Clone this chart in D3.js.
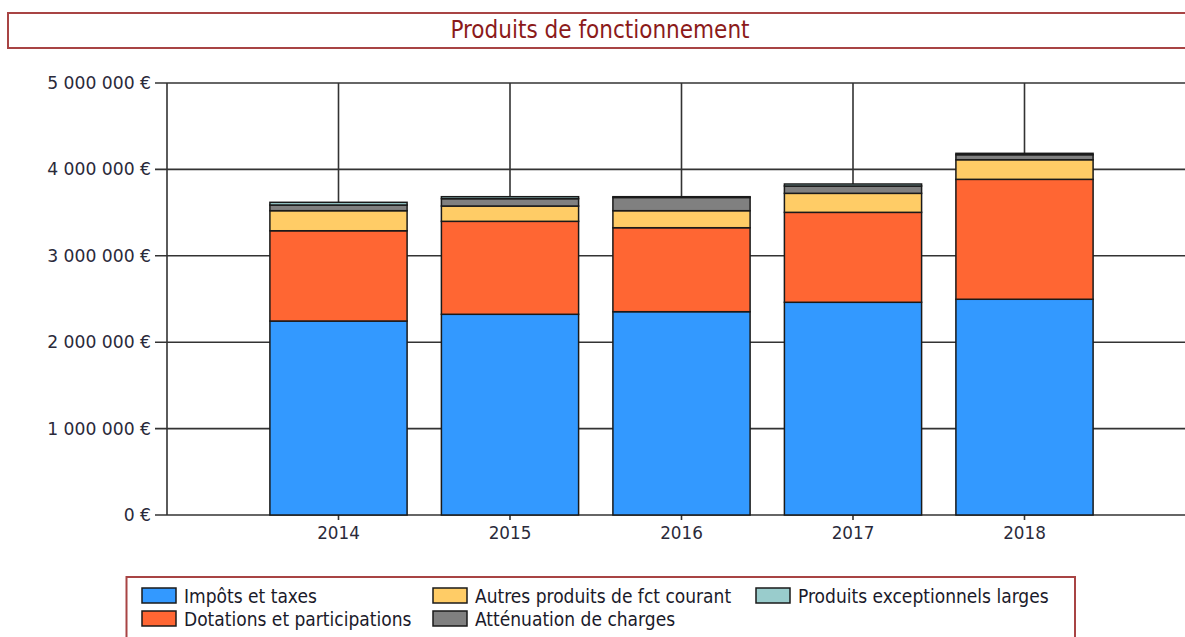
<!DOCTYPE html>
<html>
<head>
<meta charset="utf-8">
<script src="https://cdn.jsdelivr.net/npm/d3@7"></script>
<style>
  html, body { margin: 0; padding: 0; background: #fff; overflow: hidden; }
</style>
</head>
<body>
<svg id="chart"></svg>
<script>
const years = ["2014", "2015", "2016", "2017", "2018"];
const impots = [2245000, 2323000, 2353000, 2462000, 2497000];
const dotations = [1045000, 1076000, 972000, 1041000, 1388000];
const autres = [232000, 177000, 197000, 220000, 227000];
const attenuation = [66000, 85000, 153000, 85000, 58000];
const exceptionnels = [31000, 23000, 9000, 23000, 16000];
const yTicks = [0, 1000000, 2000000, 3000000, 4000000, 5000000];

const seriesNames = [
  "Impôts et taxes",
  "Dotations et participations",
  "Autres produits de fct courant",
  "Atténuation de charges",
  "Produits exceptionnels larges",
];
const seriesColors = ["#3399FF", "#FF6633", "#FFCC66", "#808080", "#99CCCC"];

const width = 1185;
const height = 637;
const frameColor = "#A84444";

const svg = d3.select("#chart").attr("width", width).attr("height", height);

// Build a table for d3.stack from the arrays
const keys = ["impots", "dotations", "autres", "attenuation", "exceptionnels"];
const table = years.map((y, i) => ({
  year: y,
  impots: impots[i],
  dotations: dotations[i],
  autres: autres[i],
  attenuation: attenuation[i],
  exceptionnels: exceptionnels[i],
}));
const stacked = d3.stack().keys(keys)(table);

const left = 167;
const step = 171.5;
const x = d3
  .scalePoint()
  .domain(years)
  .range([left + step, left + step * years.length]);
const barWidth = step * 0.8;

const y = d3.scaleLinear().domain([0, 5000000]).range([515, 83]);

const fmt = (d) => d3.format(",")(d).replace(/,/g, " ") + " €";

// Title box
svg
  .append("rect")
  .attr("x", 8)
  .attr("y", 13)
  .attr("width", 1200)
  .attr("height", 35)
  .attr("fill", "none")
  .attr("stroke", frameColor)
  .attr("stroke-width", 2);

svg
  .append("text")
  .attr("x", 600)
  .attr("y", 30)
  .attr("dy", "0.35em")
  .attr("text-anchor", "middle")
  .style("font-family", "'DejaVu Sans Condensed', 'DejaVu Sans', sans-serif")
  .style("font-stretch", "condensed")
  .style("font-size", "24px")
  .style("fill", "#8B1A1A")
  .text("Produits de fonctionnement");

// Horizontal grid lines + y ticks
const grid = svg.append("g");
grid
  .selectAll(".hgrid")
  .data(yTicks)
  .enter()
  .append("line")
  .attr("x1", left - 12)
  .attr("x2", width)
  .attr("y1", (d) => y(d))
  .attr("y2", (d) => y(d))
  .style("stroke", "#333")
  .style("stroke-width", 1.6);

// Vertical grid lines at categories
grid
  .selectAll(".vgrid")
  .data(years)
  .enter()
  .append("line")
  .attr("x1", (d) => x(d))
  .attr("x2", (d) => x(d))
  .attr("y1", y(5000000))
  .attr("y2", y(0) + 5)
  .style("stroke", "#333")
  .style("stroke-width", 1.6);

// Y axis line
grid
  .append("line")
  .attr("x1", left)
  .attr("x2", left)
  .attr("y1", y(5000000))
  .attr("y2", y(0))
  .style("stroke", "#333")
  .style("stroke-width", 1.6);

// Y labels
svg
  .selectAll(".ylabel")
  .data(yTicks)
  .enter()
  .append("text")
  .attr("x", left - 16)
  .attr("y", (d) => y(d))
  .attr("dy", "0.35em")
  .attr("text-anchor", "end")
  .style("font-family", "'DejaVu Sans', Verdana, sans-serif")
  .style("font-size", "17.2px")
  .style("fill", "#2a2a3a")
  .text(fmt);

// X labels
svg
  .selectAll(".xlabel")
  .data(years)
  .enter()
  .append("text")
  .attr("x", (d) => x(d))
  .attr("y", 533)
  .attr("dy", "0.35em")
  .attr("text-anchor", "middle")
  .style("font-family", "'DejaVu Sans', Verdana, sans-serif")
  .style("font-size", "16.8px")
  .style("fill", "#2a2a3a")
  .text((d) => d);

// Bars
const layers = svg
  .append("g")
  .selectAll(".layer")
  .data(stacked)
  .enter()
  .append("g")
  .attr("fill", (d, i) => seriesColors[i]);

layers
  .selectAll("rect")
  .data((d) => d)
  .enter()
  .append("rect")
  .attr("x", (d) => x(d.data.year) - barWidth / 2)
  .attr("y", (d) => y(d[1]))
  .attr("width", barWidth)
  .attr("height", (d) => y(d[0]) - y(d[1]))
  .style("stroke", "#1a1a1a")
  .style("stroke-width", 1.5);

// Legend box
svg
  .append("rect")
  .attr("x", 126.5)
  .attr("y", 577)
  .attr("width", 948.5)
  .attr("height", 100)
  .attr("fill", "none")
  .attr("stroke", frameColor)
  .attr("stroke-width", 2);

const legendPos = [
  [142, 588],
  [142, 611],
  [433, 588],
  [433, 611],
  [756, 588],
];

const legend = svg
  .append("g")
  .selectAll(".legend")
  .data(seriesNames)
  .enter()
  .append("g")
  .attr("transform", (d, i) => `translate(${legendPos[i][0]}, ${legendPos[i][1]})`);

legend
  .append("rect")
  .attr("width", 34)
  .attr("height", 15)
  .attr("fill", (d, i) => seriesColors[i])
  .style("stroke", "#1a1a1a")
  .style("stroke-width", 1.5);

legend
  .append("text")
  .attr("x", 42)
  .attr("y", 8)
  .attr("dy", "0.35em")
  .style("font-family", "'DejaVu Sans Condensed', 'DejaVu Sans', sans-serif")
  .style("font-stretch", "condensed")
  .style("font-size", "19px")
  .style("fill", "#1a1a2a")
  .text((d) => d);
</script>
</body>
</html>
